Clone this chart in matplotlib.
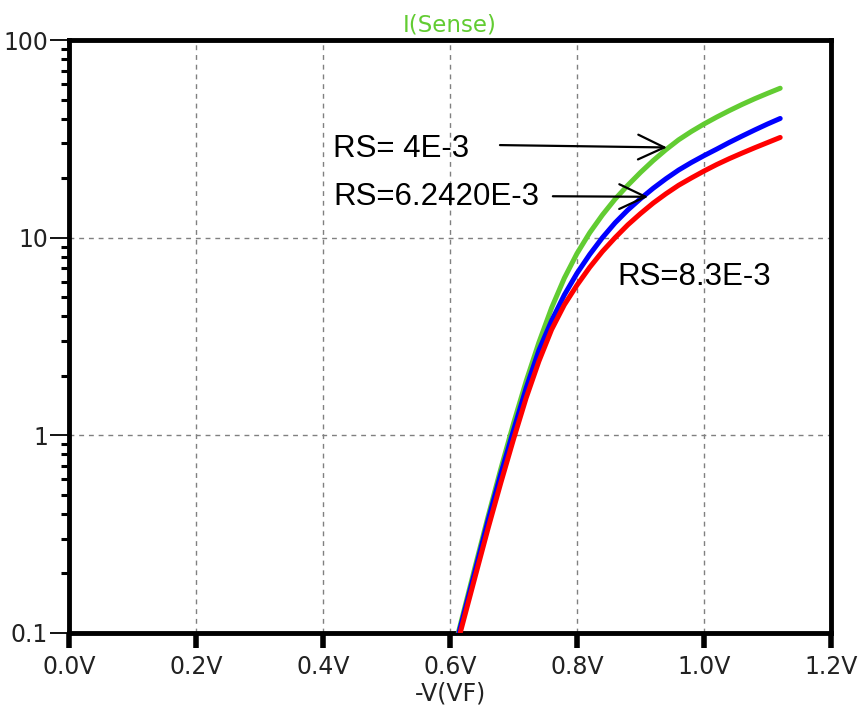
import matplotlib
matplotlib.use('Agg')
import matplotlib.pyplot as plt
import matplotlib.ticker as ticker
import numpy as np

# forward voltage (V) and current (A) for each Rs
v_rs4 = [0.613, 0.64, 0.66, 0.68, 0.70, 0.72, 0.74, 0.76, 0.78, 0.80, 0.82, 0.84, 0.86,
         0.88, 0.90, 0.92, 0.94, 0.96, 0.98, 1.00, 1.02, 1.04, 1.06, 1.08, 1.10, 1.12]
i_rs4 = [0.1, 0.219, 0.389, 0.676, 1.148, 1.884, 2.951, 4.416, 6.237, 8.318, 10.59, 13.03, 15.67,
         18.41, 21.38, 24.55, 27.86, 31.26, 34.43, 37.58, 40.74, 43.95, 47.21, 50.47, 53.70, 57.02]

v_rs6 = [0.614, 0.64, 0.66, 0.68, 0.70, 0.72, 0.74, 0.76, 0.78, 0.80, 0.82, 0.84, 0.86,
         0.88, 0.90, 0.92, 0.94, 0.96, 0.98, 1.00, 1.02, 1.04, 1.06, 1.08, 1.10, 1.12]
i_rs6 = [0.1, 0.209, 0.372, 0.638, 1.059, 1.738, 2.692, 3.802, 5.129, 6.607, 8.222, 10.0, 11.89,
         13.80, 15.74, 17.78, 19.86, 21.98, 23.99, 26.00, 28.05, 30.34, 32.66, 35.08, 37.58, 40.09]

v_rs8 = [0.616, 0.64, 0.66, 0.68, 0.70, 0.72, 0.74, 0.76, 0.78, 0.80, 0.82, 0.84, 0.86,
         0.88, 0.90, 0.92, 0.94, 0.96, 0.98, 1.00, 1.02, 1.04, 1.06, 1.08, 1.10, 1.12]
i_rs8 = [0.1, 0.195, 0.339, 0.575, 0.955, 1.549, 2.371, 3.428, 4.571, 5.754, 7.079, 8.511, 10.0,
         11.61, 13.24, 14.96, 16.67, 18.41, 20.04, 21.73, 23.44, 25.12, 26.79, 28.51, 30.27, 32.14]

xticks = [0.0, 0.2, 0.4, 0.6, 0.8, 1.0, 1.2]
xticklabels = ['0.0V', '0.2V', '0.4V', '0.6V', '0.8V', '1.0V', '1.2V']
yticks = [0.1, 1, 10, 100]
yticklabels = ['0.1', '1', '10', '100']

labels = ['RS= 4E-3', 'RS=6.2420E-3', 'RS=8.3E-3']

green = '#62cc32'

fig = plt.figure(figsize=(8.58, 7.16), dpi=100, facecolor='w')
ax = fig.add_axes([69/858, 83/716, 762/858, 593/716])

lkw = dict(lw=3.6, solid_capstyle='round', solid_joinstyle='round')
ax.plot(v_rs4, i_rs4, color=green, zorder=3, **lkw)
ax.plot(v_rs6, i_rs6, color='#0000ff', zorder=4, **lkw)
ax.plot(v_rs8, i_rs8, color='#ff0000', zorder=5, **lkw)

ax.set_yscale('log')
ax.set_xlim(0, 1.2)
ax.set_ylim(0.1, 100)

ax.set_xticks(xticks)
ax.set_xticklabels(xticklabels)
ax.yaxis.set_major_locator(ticker.FixedLocator(yticks))
ax.yaxis.set_major_formatter(ticker.FixedFormatter(yticklabels))
ax.yaxis.set_minor_locator(ticker.LogLocator(base=10, subs=np.arange(2, 10)))
ax.yaxis.set_minor_formatter(ticker.NullFormatter())

ax.grid(True, which='major', color='#808080', lw=1.0, linestyle=(0, (3.5, 3.5)))

for s in ax.spines.values():
    s.set_linewidth(3.5)
ax.tick_params(axis='x', direction='out', length=11, width=4, pad=5, labelsize=17, labelcolor='#222222')
ax.tick_params(axis='y', which='major', direction='out', length=14, width=1.3, pad=1, labelsize=17, labelcolor='#222222')
ax.tick_params(axis='y', which='minor', direction='out', length=6, width=2.2)

ax.set_title('I(Sense)', color=green, fontsize=16.5, pad=6)
ax.set_xlabel('-V(VF)', fontsize=17, color='#222222', labelpad=2)

tfont = dict(family='Liberation Sans', fontsize=22.5, color='black', va='baseline')
ax.text(0.3465, 0.803, labels[0], transform=ax.transAxes, **tfont)
ax.text(0.3465, 0.722, labels[1], transform=ax.transAxes, **tfont)
ax.text(0.719, 0.587, labels[2], transform=ax.transAxes, **tfont)

arr = dict(arrowstyle='->,head_length=0.7,head_width=0.33', lw=1.6, color='black',
           mutation_scale=27, shrinkA=0, shrinkB=0)
ax.annotate('', xy=(0.9417, 28.6), xytext=(0.6787, 29.4), arrowprops=arr, zorder=6)
ax.annotate('', xy=(0.912, 16.1), xytext=(0.762, 16.2), arrowprops=arr, zorder=6)

fig.savefig('out.png', dpi=100)
